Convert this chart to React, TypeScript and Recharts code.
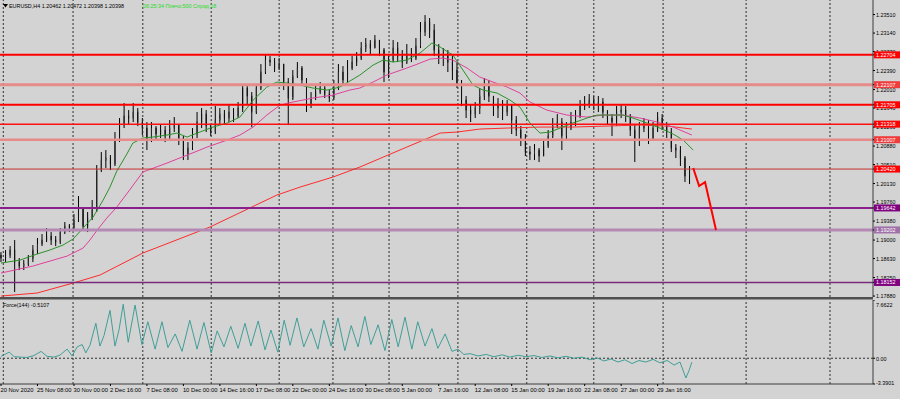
import React from 'react';
import { ComposedChart, Bar, Line, XAxis, YAxis, ReferenceLine } from 'recharts';

// ---------- price candles (one candle = two H4 bars), index k ----------
const firstOpen = 1.1870;
const candleClose = [
  1.1864, 1.1870, 1.1880, 1.1856, 1.1848, 1.1852, 1.1864, 1.1880, 1.1892, 1.1900,
  1.1908, 1.1900, 1.1896, 1.1916, 1.1928, 1.1924, 1.1940, 1.1964, 1.1928, 1.1944,
  1.1960, 1.2040, 1.2060, 1.2064, 1.2052, 1.2100, 1.2130, 1.2148, 1.2144, 1.2156,
  1.2136, 1.2124, 1.2100, 1.2124, 1.2112, 1.2120, 1.2108, 1.2124, 1.2130, 1.2104,
  1.2072, 1.2084, 1.2112, 1.2136, 1.2152, 1.2128, 1.2116, 1.2140, 1.2152, 1.2144,
  1.2156, 1.2148, 1.2164, 1.2204, 1.2188, 1.2156, 1.2204, 1.2236, 1.2260, 1.2256,
  1.2244, 1.2252, 1.2216, 1.2184, 1.2228, 1.2244, 1.2220, 1.2172, 1.2184, 1.2196,
  1.2204, 1.2192, 1.2184, 1.2204, 1.2236, 1.2220, 1.2244, 1.2256, 1.2264, 1.2284,
  1.2292, 1.2284, 1.2300, 1.2280, 1.2236, 1.2260, 1.2284, 1.2268, 1.2256, 1.2272,
  1.2264, 1.2288, 1.2316, 1.2336, 1.2320, 1.2280, 1.2264, 1.2272, 1.2256, 1.2240,
  1.2212, 1.2180, 1.2160, 1.2152, 1.2164, 1.2188, 1.2212, 1.2188, 1.2164, 1.2172,
  1.2156, 1.2168, 1.2140, 1.2120, 1.2104, 1.2076, 1.2072, 1.2080, 1.2068, 1.2088,
  1.2108, 1.2128, 1.2136, 1.2108, 1.2124, 1.2136, 1.2148, 1.2168, 1.2172, 1.2180,
  1.2172, 1.2176, 1.2156, 1.2144, 1.2136, 1.2156, 1.2160, 1.2148, 1.2120, 1.2100,
  1.2124, 1.2128, 1.2104, 1.2124, 1.2144, 1.2132, 1.2116, 1.2084, 1.2080, 1.2064,
  1.2028, 1.2040,
];
const candleHigh = [
  1.1876, 1.1880, 1.1888, 1.1900, 1.1864, 1.1860, 1.1870, 1.1890, 1.1904, 1.1912,
  1.1924, 1.1916, 1.1908, 1.1924, 1.1936, 1.1932, 1.1952, 1.1988, 1.1964, 1.1956,
  1.1980, 1.2050, 1.2076, 1.2080, 1.2070, 1.2116, 1.2144, 1.2174, 1.2160, 1.2174,
  1.2164, 1.2144, 1.2136, 1.2136, 1.2128, 1.2132, 1.2128, 1.2140, 1.2146, 1.2132,
  1.2108, 1.2096, 1.2124, 1.2156, 1.2164, 1.2160, 1.2132, 1.2168, 1.2164, 1.2160,
  1.2172, 1.2164, 1.2176, 1.2212, 1.2208, 1.2196, 1.2212, 1.2252, 1.2270, 1.2268,
  1.2264, 1.2264, 1.2252, 1.2224, 1.2240, 1.2256, 1.2248, 1.2224, 1.2196, 1.2212,
  1.2216, 1.2208, 1.2200, 1.2220, 1.2252, 1.2248, 1.2260, 1.2268, 1.2276, 1.2296,
  1.2304, 1.2300, 1.2310, 1.2300, 1.2284, 1.2268, 1.2300, 1.2296, 1.2280, 1.2292,
  1.2284, 1.2304, 1.2336, 1.2350, 1.2344, 1.2332, 1.2292, 1.2284, 1.2280, 1.2268,
  1.2256, 1.2220, 1.2188, 1.2172, 1.2176, 1.2204, 1.2224, 1.2220, 1.2188, 1.2184,
  1.2180, 1.2180, 1.2172, 1.2148, 1.2128, 1.2112, 1.2088, 1.2092, 1.2084, 1.2100,
  1.2120, 1.2144, 1.2152, 1.2144, 1.2136, 1.2156, 1.2160, 1.2180, 1.2188, 1.2192,
  1.2188, 1.2188, 1.2184, 1.2160, 1.2152, 1.2168, 1.2172, 1.2168, 1.2152, 1.2132,
  1.2136, 1.2144, 1.2140, 1.2136, 1.2156, 1.2152, 1.2136, 1.2124, 1.2092, 1.2088,
  1.2068, 1.2048,
];
const candleLow = [
  1.1856, 1.1856, 1.1864, 1.1796, 1.1840, 1.1840, 1.1848, 1.1856, 1.1872, 1.1888,
  1.1896, 1.1890, 1.1888, 1.1892, 1.1912, 1.1916, 1.1920, 1.1936, 1.1920, 1.1916,
  1.1940, 1.1956, 1.2036, 1.2044, 1.2040, 1.2048, 1.2096, 1.2124, 1.2132, 1.2136,
  1.2128, 1.2110, 1.2080, 1.2096, 1.2100, 1.2104, 1.2096, 1.2100, 1.2116, 1.2090,
  1.2060, 1.2060, 1.2080, 1.2104, 1.2124, 1.2116, 1.2108, 1.2112, 1.2132, 1.2132,
  1.2136, 1.2136, 1.2144, 1.2156, 1.2172, 1.2126, 1.2152, 1.2200, 1.2232, 1.2248,
  1.2236, 1.2240, 1.2200, 1.2130, 1.2180, 1.2224, 1.2212, 1.2156, 1.2164, 1.2180,
  1.2192, 1.2184, 1.2176, 1.2180, 1.2200, 1.2208, 1.2216, 1.2240, 1.2248, 1.2260,
  1.2276, 1.2272, 1.2284, 1.2268, 1.2216, 1.2224, 1.2256, 1.2256, 1.2244, 1.2252,
  1.2256, 1.2260, 1.2284, 1.2308, 1.2304, 1.2268, 1.2252, 1.2248, 1.2236, 1.2220,
  1.2204, 1.2168, 1.2144, 1.2136, 1.2144, 1.2152, 1.2180, 1.2176, 1.2148, 1.2144,
  1.2140, 1.2148, 1.2112, 1.2108, 1.2088, 1.2068, 1.2060, 1.2060, 1.2056, 1.2068,
  1.2084, 1.2104, 1.2124, 1.2080, 1.2100, 1.2120, 1.2128, 1.2144, 1.2160, 1.2164,
  1.2160, 1.2156, 1.2144, 1.2132, 1.2108, 1.2128, 1.2144, 1.2136, 1.2108, 1.2056,
  1.2088, 1.2116, 1.2092, 1.2100, 1.2116, 1.2120, 1.2104, 1.2076, 1.2064, 1.2048,
  1.2016, 1.2012,
];

// ---------- moving averages ----------
const fastMaBars = [
  0, 4.2, 7.9, 10.7, 13.6, 15.8, 18.0, 20.2, 22.4, 23.9,
  25.4, 27.6, 28.9, 31.1, 33.3, 36.4, 38.6, 40.8, 43.6, 46.5,
  49.6, 52.4, 55.3, 58.3, 60.5, 62.7, 65.6, 68.4, 71.5, 74.3,
  78.7, 81.6, 83.8, 86.0, 89.0, 91.9, 94.5, 96.3, 99.1, 101.3,
  103.5, 105.7, 108.8, 111.6, 113.8, 116.0, 118.2, 120.4, 122.6, 125.4,
  128.5, 130.7, 133.6, 136.4, 138.6, 141.7, 144.5, 147.4, 149.6, 151.8,
];
const fastMaValues = [
  1.1854, 1.1860, 1.1872, 1.1880, 1.1890, 1.1902, 1.1924, 1.1946, 1.1980, 1.2006,
  1.2038, 1.2072, 1.2094, 1.2104, 1.2106, 1.2110, 1.2114, 1.2106, 1.2116, 1.2126,
  1.2134, 1.2146, 1.2180, 1.2206, 1.2216, 1.2214, 1.2210, 1.2204, 1.2200, 1.2206,
  1.2230, 1.2250, 1.2260, 1.2256, 1.2260, 1.2274, 1.2294, 1.2286, 1.2270, 1.2240,
  1.2210, 1.2200, 1.2194, 1.2180, 1.2166, 1.2134, 1.2114, 1.2116, 1.2124, 1.2134,
  1.2144, 1.2150, 1.2150, 1.2150, 1.2144, 1.2134, 1.2124, 1.2112, 1.2100, 1.2080,
];
const midMaBars = [
  0, 7.0, 14.5, 18.0, 19.5, 21.1, 23.2, 25.4, 28.2, 31.1,
  36.4, 43.6, 45.2, 49.6, 52.4, 55.3, 58.3, 61.2, 64.0, 68.4,
  72.8, 76.5, 78.7, 81.6, 84.6, 89.0, 91.9, 94.1, 96.9, 99.1,
  102.2, 105.0, 107.9, 111.0, 113.8, 116.0, 119.7, 124.1, 128.5, 132.0,
  136.4, 140.1, 143.9, 147.4, 151.5,
];
const midMaValues = [
  1.1834, 1.1848, 1.1868, 1.1884, 1.1900, 1.1920, 1.1944, 1.1966, 1.2000, 1.2036,
  1.2054, 1.2080, 1.2086, 1.2100, 1.2110, 1.2126, 1.2150, 1.2170, 1.2176, 1.2184,
  1.2190, 1.2200, 1.2204, 1.2216, 1.2230, 1.2244, 1.2254, 1.2262, 1.2264, 1.2260,
  1.2244, 1.2226, 1.2216, 1.2206, 1.2194, 1.2176, 1.2160, 1.2150, 1.2146, 1.2150,
  1.2150, 1.2144, 1.2136, 1.2126, 1.2110,
];
const slowMaBars = [0, 7.9, 15.8, 21.7, 31.1, 45.8, 60.5, 65.6, 72.8, 78.7, 89.0, 96.3, 100.0, 105.0, 111.0, 118.2, 125.4, 132.9, 140.1, 146.1, 151.5];
const slowMaValues = [1.1788, 1.1794, 1.1814, 1.1830, 1.1874, 1.1926, 1.1990, 1.2006, 1.2026, 1.2046, 1.2086, 1.2114, 1.2116, 1.2122, 1.2124, 1.2126, 1.2126, 1.2128, 1.2130, 1.2128, 1.2122];

// hand-drawn projection
const projectionBars = [151.8, 153.1, 154.4, 156.8];
const projectionPrices = [1.2044, 1.2008, 1.2016, 1.1920];

// ---------- levels & axes ----------
const levelPrices = [1.22704, 1.22107, 1.21705, 1.21318, 1.21007, 1.2042, 1.19642, 1.19202, 1.18152];
const priceTicks = [1.2351, 1.2314, 1.2277, 1.2239, 1.2201, 1.2164, 1.2126, 1.2088, 1.2051, 1.2013, 1.1976, 1.1938, 1.19, 1.1863, 1.1825, 1.1788];
const dateLabelBars = [0, 8, 16, 24, 32, 40, 48, 56, 64, 72, 80, 88, 96, 104, 112, 120, 128, 136, 144];
const dateLabels = ['20 Nov 2020', '25 Nov 08:00', '30 Nov 00:00', '2 Dec 16:00', '7 Dec 08:00', '10 Dec 00:00', '14 Dec 16:00', '17 Dec 08:00', '22 Dec 00:00', '24 Dec 16:00', '30 Dec 08:00', '5 Jan 00:00', '7 Jan 16:00', '12 Jan 08:00', '15 Jan 00:00', '19 Jan 16:00', '22 Jan 08:00', '27 Jan 00:00', '29 Jan 16:00'];
const weekGridBars = [0.5, 15.8, 31.1, 46.1, 61.0, 72.8, 85.1, 100.2, 115.3, 130.0, 145.2, 163.4, 181.8];

// ---------- Force(144) ----------
const forceBars = [
  0, 0.7, 1.8, 2.9, 4.2, 5.7, 7.2, 8.8, 10.1, 11.6,
  12.9, 14.5, 15.6, 16.7, 17.8, 18.6, 19.5, 20.8, 21.7, 22.6,
  23.9, 25.0, 25.9, 26.8, 27.9, 29.4, 30.9, 32.2, 33.8, 35.3,
  36.6, 38.2, 39.7, 41.4, 43.0, 44.5, 46.1, 47.4, 48.9, 50.4,
  52.0, 53.5, 54.8, 56.4, 57.9, 59.2, 60.7, 62.1, 63.4, 64.9,
  66.4, 68.0, 69.5, 70.8, 72.4, 73.9, 75.4, 76.8, 78.3, 79.8,
  81.1, 82.7, 84.2, 85.7, 87.1, 88.6, 90.1, 91.4, 93.0, 94.5,
  95.8, 97.4, 98.9, 100.2, 101.5, 102.9, 104.6, 106.4, 108.1, 109.9,
  111.6, 113.4, 115.1, 116.9, 118.6, 120.4, 122.1, 123.9, 125.7, 127.4,
  129.2, 130.7, 132.2, 133.8, 135.3, 136.8, 138.4, 139.9, 141.4, 143.0,
  144.5, 146.1, 147.6, 148.9, 150.2, 150.9, 151.5,
];
const forceValues = [
  0.25, 0.45, 0.8, 0.2, 0.15, 0.1, 0.35, 0.9, 0.25, 0.15,
  0.4, 1.2, 0.3, 1.5, 1.8, 0.7, 1.7, 4.6, 1.6, 3.0,
  6.3, 1.6, 3.8, 7.1, 2.1, 7.0, 1.8, 4.8, 1.2, 4.8,
  1.4, 3.2, 0.9, 5.0, 1.2, 4.7, 0.7, 3.6, 1.5, 4.2,
  1.3, 4.6, 1.6, 4.9, 1.1, 3.7, 0.8, 5.0, 1.7, 5.3,
  1.5, 3.9, 1.2, 5.0, 1.6, 5.3, 1.0, 4.3, 1.5, 5.5,
  1.8, 4.4, 1.0, 5.1, 1.5, 5.4, 1.2, 4.8, 1.6, 3.9,
  1.3, 3.2, 0.9, 1.2, 0.5, 0.6, 0.3, 0.5, 0.2, 0.45,
  0.15, 0.4, 0.2, 0.35, 0.1, 0.3, 0.05, 0.25, 0.0, 0.15,
  -0.2, 0.05, -0.35, -0.1, -0.5, -0.2, -0.7, -0.3, -0.5, -0.15,
  -0.6, -0.3, -0.9, -0.5, -2.6, -1.6, -0.51,
];
const forceTicks = [7.6622, 0, -3.3901];

// ---------- styles ----------
const levelStyles = [
  { line: '#ff0000', w: 2, tag: '#ff0000' },
  { line: '#e68a8a', w: 3, tag: '#f03c3c' },
  { line: '#ff0000', w: 2, tag: '#ff0000' },
  { line: '#ff1010', w: 1.5, tag: '#ff0000' },
  { line: '#e68a8a', w: 2.5, tag: '#f03c3c' },
  { line: '#c83030', w: 1, tag: '#ff0000' },
  { line: '#8a1f8a', w: 2, tag: '#800080' },
  { line: '#b48ab4', w: 3, tag: '#a070a8' },
  { line: '#7a2a7a', w: 1.5, tag: '#800080' },
];
const BG = '#d3d3d3';
const FONT = '"Liberation Sans", Arial, sans-serif';
const X_DOMAIN: [number, number] = [-0.22, 191.23];
const PRICE_DOMAIN: [number, number] = [1.17861, 1.23801];
const FORCE_DOMAIN: [number, number] = [-3.3901, 7.6622];

// ---------- derived tables ----------
const candles = candleClose.map((close, i) => {
  const open = i === 0 ? firstOpen : candleClose[i - 1];
  const hi = Math.max(candleHigh[i], open, close);
  const lo = Math.min(candleLow[i], open, close);
  return { k: i, open, close, hi, lo, range: [lo, hi] };
});
const zip = (ks: number[], vs: number[]) =>
  ks.slice(0, Math.min(ks.length, vs.length)).map((k, i) => ({ k, v: vs[i] }));
const fastMa = zip(fastMaBars, fastMaValues);
const midMa = zip(midMaBars, midMaValues);
const slowMa = zip(slowMaBars, slowMaValues);
const projection = zip(projectionBars, projectionPrices);
const forceData = zip(forceBars, forceValues);

const CandleShape = (props: any) => {
  const { x, y, width, height, payload } = props;
  if (!payload || x == null || y == null || height == null) return null;
  const top = Math.min(y, y + height);
  const h = Math.abs(height);
  const { open, close, hi, lo } = payload;
  const span = hi - lo || 1e-9;
  const yOf = (v: number) => top + ((hi - v) / span) * h;
  const cx = x + width / 2;
  const yo = yOf(open);
  const yc = yOf(close);
  const bTop = Math.min(yo, yc);
  const bH = Math.max(1, Math.abs(yc - yo));
  const bull = close >= open;
  return (
    <g>
      <line x1={cx} x2={cx} y1={top} y2={top + h} stroke="#000" strokeWidth={1} />
      <rect x={x} y={bTop} width={width} height={bH} fill={bull ? '#ababab' : '#000'} stroke="#111" strokeWidth={0.6} />
    </g>
  );
};

const PriceTick = (props: any) => {
  const { x, y, payload } = props;
  const v = payload?.value as number;
  const idx = levelPrices.indexOf(v);
  if (idx >= 0) {
    const st = levelStyles[idx];
    return (
      <g>
        <rect x={x - 2} y={y - 3.5} width={27} height={7} fill={st.tag} />
        <text x={x} y={y + 2} fontSize={5.4} fill="#fff" fontFamily={FONT}>{v.toFixed(5)}</text>
      </g>
    );
  }
  return <text x={x} y={y + 2} fontSize={5.4} fill="#000" fontFamily={FONT}>{v.toFixed(5)}</text>;
};

const ForceTick = (props: any) => {
  const { x, y, payload } = props;
  const v = payload?.value as number;
  const label = v === 0 ? '0.00' : v.toFixed(4);
  const dy = v === forceTicks[0] ? 6.5 : v === 0 ? 3 : 1;
  return <text x={x} y={y + dy} fontSize={5.4} fill="#000" fontFamily={FONT}>{label}</text>;
};

const DateTick = (props: any) => {
  const { x, y, payload } = props;
  const idx = dateLabelBars.indexOf(payload?.value);
  if (idx < 0) return null;
  return <text x={x - 0.5} y={y + 5} fontSize={5.8} fill="#000" fontFamily={FONT}>{dateLabels[idx]}</text>;
};

export default function App() {
  return (
    <div style={{ position: 'absolute', left: 0, top: 0, width: 900, height: 399, background: BG, overflow: 'hidden' }}>
      <div style={{ position: 'absolute', left: 0, top: 0 }}>
        <ComposedChart width={900} height={300} margin={{ top: 0, right: 0, bottom: 3, left: 0 }} data={candles}>
          <XAxis type="number" dataKey="k" domain={X_DOMAIN} allowDataOverflow hide />
          <YAxis
            orientation="right"
            type="number"
            domain={PRICE_DOMAIN}
            allowDataOverflow
            width={27}
            ticks={[...priceTicks, ...levelPrices]}
            interval={0}
            tick={<PriceTick />}
            tickSize={2}
            tickMargin={1}
            axisLine={{ stroke: '#3c3c3c' }}
            tickLine={{ stroke: '#000' }}
          />
          {weekGridBars.map((k) => (
            <ReferenceLine key={'g' + k} x={k} stroke="#2e2e2e" strokeDasharray="2 2" strokeWidth={1} />
          ))}
          <Bar dataKey="range" shape={<CandleShape />} barSize={3} isAnimationActive={false} />
          <Line data={slowMa} dataKey="v" stroke="#ff2a2a" strokeWidth={1} dot={false} activeDot={false} isAnimationActive={false} />
          <Line data={midMa} dataKey="v" stroke="#e0409c" strokeWidth={1} dot={false} activeDot={false} isAnimationActive={false} />
          <Line data={fastMa} dataKey="v" stroke="#2a922a" strokeWidth={1} dot={false} activeDot={false} isAnimationActive={false} />
          {levelPrices.map((p, i) => (
            <ReferenceLine key={'l' + p} y={p} stroke={levelStyles[i].line} strokeWidth={levelStyles[i].w} />
          ))}
          <Line data={projection} dataKey="v" stroke="#ff0000" strokeWidth={2} dot={false} activeDot={false} isAnimationActive={false} />
        </ComposedChart>
      </div>
      <div style={{ position: 'absolute', left: 0, top: 300 }}>
        <ComposedChart width={900} height={99} margin={{ top: 0, right: 0, bottom: 0, left: 0 }} data={forceData}>
          <XAxis
            type="number"
            dataKey="k"
            domain={X_DOMAIN}
            allowDataOverflow
            ticks={dateLabelBars}
            interval={0}
            tick={<DateTick />}
            height={15}
            tickSize={2}
            tickMargin={1}
            axisLine={{ stroke: '#3c3c3c' }}
            tickLine={{ stroke: '#000' }}
          />
          <YAxis
            orientation="right"
            type="number"
            domain={FORCE_DOMAIN}
            allowDataOverflow
            width={27}
            ticks={forceTicks}
            interval={0}
            tick={<ForceTick />}
            tickSize={2}
            tickMargin={1}
            axisLine={{ stroke: '#3c3c3c' }}
            tickLine={{ stroke: '#000' }}
          />
          {weekGridBars.map((k) => (
            <ReferenceLine key={'fg' + k} x={k} stroke="#2e2e2e" strokeDasharray="2 2" strokeWidth={1} />
          ))}
          <ReferenceLine y={0} stroke="#2e2e2e" strokeDasharray="2 2" strokeWidth={1} />
          <Line dataKey="v" stroke="#3f9f97" strokeWidth={1} dot={false} activeDot={false} isAnimationActive={false} />
        </ComposedChart>
      </div>
      <svg width={900} height={399} style={{ position: 'absolute', left: 0, top: 0, pointerEvents: 'none' }}>
        <rect x={0} y={297} width={873} height={2.5} fill="#505050" />
        <polygon points="3,4 8,4 5.5,7.5" fill="#000" />
        <text x={9} y={8} fontSize={5.4} fill="#000" fontFamily={FONT}>EURUSD,H4  1.20462 1.20472 1.20398 1.20398</text>
        <text x={143} y={8} fontSize={5.4} fill="#22dd22" fontFamily={FONT}>06:25:34 Плечо:500 Спрэд:18</text>
        <text x={3} y={307} fontSize={5.4} fill="#000" fontFamily={FONT}>Force(144) -0.5107</text>
      </svg>
    </div>
  );
}
